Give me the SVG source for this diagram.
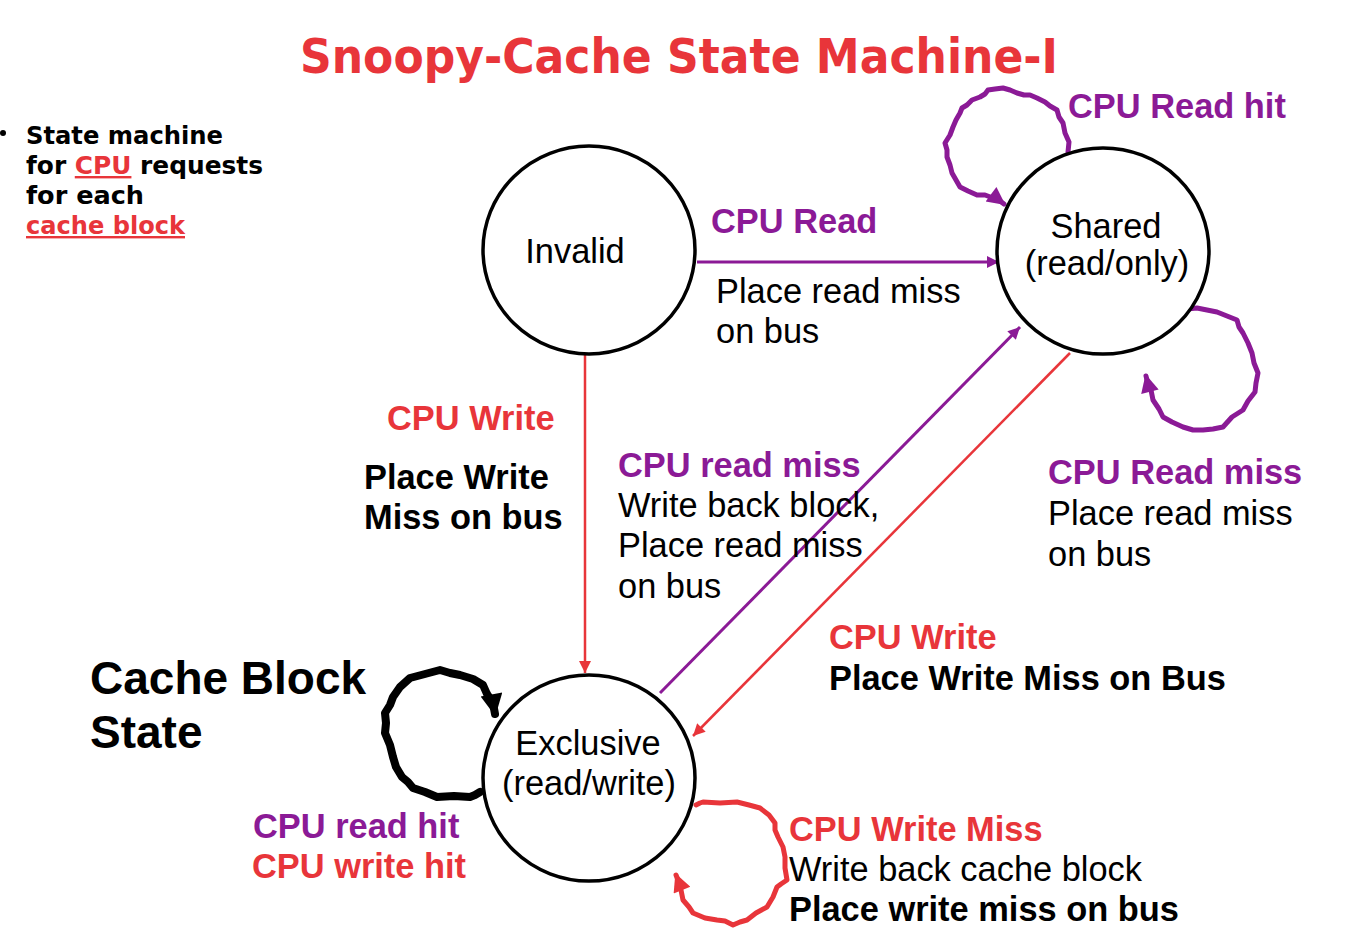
<svg xmlns="http://www.w3.org/2000/svg" width="1348" height="950" viewBox="0 0 1348 950">
<style>
.t{font-family:"Liberation Sans",Arial,sans-serif;font-size:34.4px}
.b{font-weight:bold}
.p{fill:#8B1A96}
.r{fill:#E8353A}
.k{fill:#000}
.comic{font-family:"DejaVu Sans",sans-serif;font-weight:bold}
.node{fill:#fff;stroke:#000;stroke-width:3.5}
.lp{fill:none;stroke:#8B1A96;stroke-width:3}
.lr{fill:none;stroke:#E8353A;stroke-width:2.5}
.loop{fill:none;stroke-linejoin:round;stroke-linecap:round}
</style>
<defs>
<marker id="ap" viewBox="0 0 10 10" refX="10" refY="5" markerUnits="userSpaceOnUse" markerWidth="16" markerHeight="12" orient="auto"><path d="M0,0 L10,5 L0,10 z" fill="#8B1A96"/></marker>
<marker id="ar" viewBox="0 0 10 10" refX="10" refY="5" markerUnits="userSpaceOnUse" markerWidth="16" markerHeight="12" orient="auto"><path d="M0,0 L10,5 L0,10 z" fill="#E8353A"/></marker>
<marker id="apL" viewBox="0 0 10 10" refX="9" refY="5" markerUnits="userSpaceOnUse" markerWidth="22" markerHeight="18" orient="auto"><path d="M0,0 L10,5 L0,10 z" fill="#8B1A96"/></marker>
<marker id="arL" viewBox="0 0 10 10" refX="9" refY="5" markerUnits="userSpaceOnUse" markerWidth="22" markerHeight="18" orient="auto"><path d="M0,0 L10,5 L0,10 z" fill="#E8353A"/></marker>
<marker id="akL" viewBox="0 0 10 10" refX="9" refY="5" markerUnits="userSpaceOnUse" markerWidth="26" markerHeight="22" orient="auto"><path d="M0,0 L10,5 L0,10 z" fill="#000"/></marker>
</defs>
<rect width="1348" height="950" fill="#fff"/>

<g id="title">
<text class="comic r" x="300" y="73" font-size="48" textLength="758" lengthAdjust="spacingAndGlyphs">Snoopy-Cache State Machine-I</text>
</g>

<g id="notes" class="comic" font-size="24">
<circle cx="3" cy="133" r="3" fill="#000"/>
<text x="26" y="144" textLength="197" lengthAdjust="spacingAndGlyphs">State machine</text>
<text x="26" y="174" textLength="237" lengthAdjust="spacingAndGlyphs">for <tspan class="r" text-decoration="underline">CPU</tspan> requests</text>
<text x="26" y="204" textLength="118" lengthAdjust="spacingAndGlyphs">for each</text>
<text x="26" y="234" class="r" text-decoration="underline" textLength="159" lengthAdjust="spacingAndGlyphs">cache block</text>
</g>

<g id="connectors">
<line class="lp" x1="697" y1="262" x2="999" y2="262" marker-end="url(#ap)"/>
<line class="lr" x1="585" y1="353" x2="585" y2="673" marker-end="url(#ar)"/>
<line class="lp" x1="660" y1="693" x2="1020" y2="327" marker-end="url(#ap)"/>
<line class="lr" x1="1070" y1="353" x2="693" y2="736" marker-end="url(#ar)"/>
<polyline class="loop" stroke="#8B1A96" stroke-width="5" marker-end="url(#apL)" points="1066,181 1069,172 1070,163 1068,152 1069,142 1065,133 1063,123 1059,117 1057,110 1050,106 1045,102 1037,98 1030,95 1024,95 1017,93 1010,90 1003,88 995,89 988,90 985,94 980,97 972,100 967,105 962,108 960,113 956,120 953,127 950,135 945,143 947,150 947,157 950,165 952,173 956,180 960,187 968,191 977,195 985,195 993,198 1000,201 1004,204"/>
<polyline class="loop" stroke="#8B1A96" stroke-width="5" marker-end="url(#apL)" points="1167,311 1172,309 1177,308 1187,309 1197,308 1207,310 1217,312 1227,316 1237,320 1239,327 1243,333 1248,343 1252,353 1254,363 1258,373 1256,383 1255,392 1248,401 1243,410 1232,417 1223,427 1213,429 1203,430 1193,430 1183,427 1172,422 1163,417 1159,409 1153,400 1151,390 1147,380 1146,376"/>
<polyline class="loop" stroke="#000" stroke-width="8" marker-end="url(#akL)" points="480,792 475,795 470,797 454,796 437,797 425,792 413,788 408,782 402,777 396,767 393,757 390,745 385,733 386,723 385,713 390,705 393,697 400,687 410,678 425,674 440,670 450,673 460,675 473,679 483,685 487,694 493,703 495,714"/>
<polyline class="loop" stroke="#E8353A" stroke-width="5" marker-end="url(#arL)" points="696,805 700,803 703,802 720,803 737,802 749,805 760,808 769,815 775,823 775,830 778,837 783,847 785,857 785,868 787,880 781,884 777,887 773,897 767,907 756,913 747,920 740,922 733,925 725,921 717,920 705,918 693,913 689,907 683,900 681,890 678,880 676,875"/>
</g>

<g id="invalid">
<ellipse class="node" cx="589" cy="250" rx="106" ry="104"/>
<text class="t k" x="575" y="263" text-anchor="middle">Invalid</text>
</g>
<g id="shared">
<ellipse class="node" cx="1103" cy="251" rx="106" ry="103"/>
<text class="t k" x="1106" y="238" text-anchor="middle">Shared</text>
<text class="t k" x="1107" y="275" text-anchor="middle">(read/only)</text>
</g>
<g id="exclusive">
<ellipse class="node" cx="589" cy="778" rx="106" ry="103"/>
<text class="t k" x="588" y="755" text-anchor="middle">Exclusive</text>
<text class="t k" x="589" y="795" text-anchor="middle">(read/write)</text>
</g>

<g id="labels" class="t">
<text class="b p" x="711" y="233">CPU Read</text>
<text class="k" x="716" y="303">Place read miss</text>
<text class="k" x="716" y="343">on bus</text>

<text class="b r" x="387" y="430">CPU Write</text>
<text class="b k" x="364" y="489">Place Write</text>
<text class="b k" x="364" y="529">Miss on bus</text>

<text class="b p" x="618" y="477">CPU read miss</text>
<text class="k" x="618" y="517">Write back block,</text>
<text class="k" x="618" y="557">Place read miss</text>
<text class="k" x="618" y="598">on bus</text>

<text class="b p" x="1048" y="484">CPU Read miss</text>
<text class="k" x="1048" y="525">Place read miss</text>
<text class="k" x="1048" y="566">on bus</text>

<text class="b r" x="829" y="649">CPU Write</text>
<text class="b k" x="829" y="690">Place Write Miss on Bus</text>

<text class="b p" x="1068" y="118">CPU Read hit</text>

<text class="b k" x="90" y="694" font-size="46">Cache Block</text>
<text class="b k" x="90" y="748" font-size="46">State</text>

<text class="b p" x="253" y="838">CPU read hit</text>
<text class="b r" x="252" y="878">CPU write hit</text>

<text class="b r" x="789" y="841">CPU Write Miss</text>
<text class="k" x="789" y="881">Write back cache block</text>
<text class="b k" x="789" y="921">Place write miss on bus</text>
</g>
</svg>
